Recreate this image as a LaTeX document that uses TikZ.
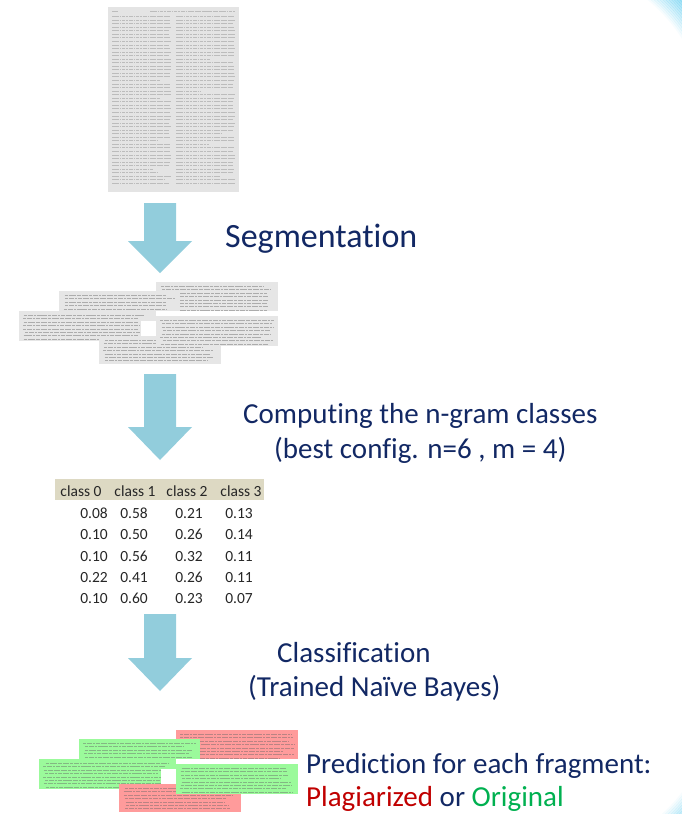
\documentclass[tikz,border=0pt]{standalone}
\usepackage{fontspec}
\setmainfont[Ligatures=NoCommon]{Carlito}
\definecolor{navy}{RGB}{18,40,100}
\definecolor{arrowblue}{RGB}{146,205,220}
\definecolor{headtan}{RGB}{221,217,195}
\definecolor{pagegray}{RGB}{228,228,228}
\definecolor{fraggray}{RGB}{230,230,230}
\definecolor{fraggreen}{RGB}{155,250,155}
\definecolor{fragred}{RGB}{255,155,155}
\definecolor{plagred}{RGB}{192,0,0}
\definecolor{origgreen}{RGB}{0,176,80}
\definecolor{ringblue}{RGB}{120,212,242}

% a text fragment: filled strip with blurred text lines
\newcommand\txtfrag[5]{%
  \fill[#5] (#1,#2) rectangle (#3,#4);
  \begin{scope}
    \clip (#1+3,#2+2) rectangle (#3-3,#4-1);
    \foreach \k in {0,...,8}{%
      \pgfmathsetmacro\yy{#2+4.5+\k*3.4}
      \draw[fragline] ({#1+4+3*rnd},\yy) -- ({#3-4-14*rnd},\yy);
    }
  \end{scope}}

% the five overlapping fragments, shifted by (#1,#2)
\newcommand\fragset[7]{%
  \txtfrag{156+#1}{282+#2}{278+#1}{311+#2}{#3}
  \txtfrag{59+#1}{291+#2}{180+#1}{311+#2}{#4}
  \txtfrag{19+#1}{311+#2}{156+#1}{341+#2}{#5}
  \fill[white] (141+#1,321+#2) rectangle (156+#1,337+#2);
  \txtfrag{99+#1}{336+#2}{221+#1}{364+#2}{#6}
  \txtfrag{156+#1}{316+#2}{278+#1}{346+#2}{#7}}

% block arrow pointing down
\newcommand\blockdown[4]{%
  \fill[arrowblue] (#1-16,#2) -- (#1+16,#2) -- (#1+16,#3) -- (#1+32,#3)
    -- (#1,#4) -- (#1-32,#3) -- (#1-16,#3) -- cycle;}

\begin{document}
\begin{tikzpicture}[x=1pt,y=-1pt,
  fragline/.style={line width=1.1pt, draw=black!60, opacity=0.45,
    dash pattern=on 3pt off 0.9pt on 5pt off 0.9pt on 2pt off 0.9pt on 4pt off 0.9pt on 6pt off 0.9pt},
  pageline/.style={line width=0.8pt, draw=black!50, opacity=0.4,
    dash pattern=on 2.5pt off 0.7pt on 4pt off 0.7pt on 1.5pt off 0.7pt on 3pt off 0.7pt},
  label/.style={anchor=base west, inner sep=0pt, text=navy, font=\fontsize{29}{34}\selectfont},
  cell/.style={anchor=base east, inner sep=0pt, font=\fontsize{15.5}{18}\selectfont, text=black!85},
  headcell/.style={anchor=base, inner sep=0pt, font=\fontsize{15.5}{18}\selectfont, text=black!85}]
\useasboundingbox (0,0) rectangle (682,814);
\pgfmathsetseed{11}

% decorative ring pieces in the right-hand corners
\begin{scope}
  \clip (600,0) rectangle (682,70);
  \foreach \i in {0,...,16}{%
    \pgfmathsetmacro\op{min(0.06+\i*0.06,0.85)}
    \draw[ringblue, line width=2.4pt, opacity=\op] (540,130) circle [radius=170+\i*2];
  }
\end{scope}
\begin{scope}
  \clip (630,770) rectangle (682,814);
  \foreach \i in {0,...,16}{%
    \pgfmathsetmacro\op{min(0.06+\i*0.06,0.85)}
    \draw[ringblue, line width=2.4pt, opacity=\op] (560,700) circle [radius=154+\i*2];
  }
\end{scope}

% the source document page
\fill[pagegray] (108,7) rectangle (239,192);
\draw[pageline] (112,11) -- (118,11);
\draw[pageline] (150,11) -- (235,11);
\foreach \k in {0,...,47}{%
  \pgfmathsetmacro\yy{16.5+\k*3.55}
  \pgfmathsetmacro\ea{rnd>0.86 ? 171-30*rnd : 171-2*rnd}
  \pgfmathsetmacro\eb{rnd>0.86 ? 235-35*rnd : 235-2*rnd}
  \draw[pageline] (112,\yy) -- (\ea,\yy);
  \draw[pageline] (176,\yy) -- (\eb,\yy);
}

% step 1
\blockdown{160}{203}{241}{273}
\node[label, font=\fontsize{34}{40}\selectfont] (seg) at (225,247) {Segmentation};
\fragset{0}{0}{fraggray}{fraggray}{fraggray}{fraggray}{fraggray}

% step 2
\blockdown{160}{374}{427}{460}
\node[label] (ngram) at (243,423) {Computing the n-gram classes};
\node[label] (config) at (274,458) {(best config. n=6 , m = 4)};

% table of class probabilities
\fill[headtan] (55,479) rectangle (264,500);
\node[headcell] (h0) at (81,496) {class 0};
\node[headcell] (h1) at (135,496) {class 1};
\node[headcell] (h2) at (187,496) {class 2};
\node[headcell] (h3) at (241,496) {class 3};
\foreach \r/\yy/\a/\b/\c/\d in {1/518/0.08/0.58/0.21/0.13,
                               2/539/0.10/0.50/0.26/0.14,
                               3/561/0.10/0.56/0.32/0.11,
                               4/582/0.22/0.41/0.26/0.11,
                               5/603/0.10/0.60/0.23/0.07}{%
  \node[cell] (r\r c0) at (108,\yy) {\a};
  \node[cell] (r\r c1) at (148,\yy) {\b};
  \node[cell] (r\r c2) at (203,\yy) {\c};
  \node[cell] (r\r c3) at (253,\yy) {\d};
}

% step 3
\blockdown{160}{614}{658}{691}
\node[label] (cls) at (277,662) {Classification};
\node[label] (bayes) at (248,696) {(Trained Naïve Bayes)};

% result
\begin{scope}
  \clip (0,0) rectangle (682,814);
  \fragset{20}{448}{fragred}{fraggreen}{fraggreen}{fragred}{fraggreen}
\end{scope}
\node[label] (pred) at (306,773) {Prediction for each fragment:};
\node[label] (res) at (306,806) {\textcolor{plagred}{Plagiarized} or \textcolor{origgreen}{Original}};
\end{tikzpicture}
\end{document}
